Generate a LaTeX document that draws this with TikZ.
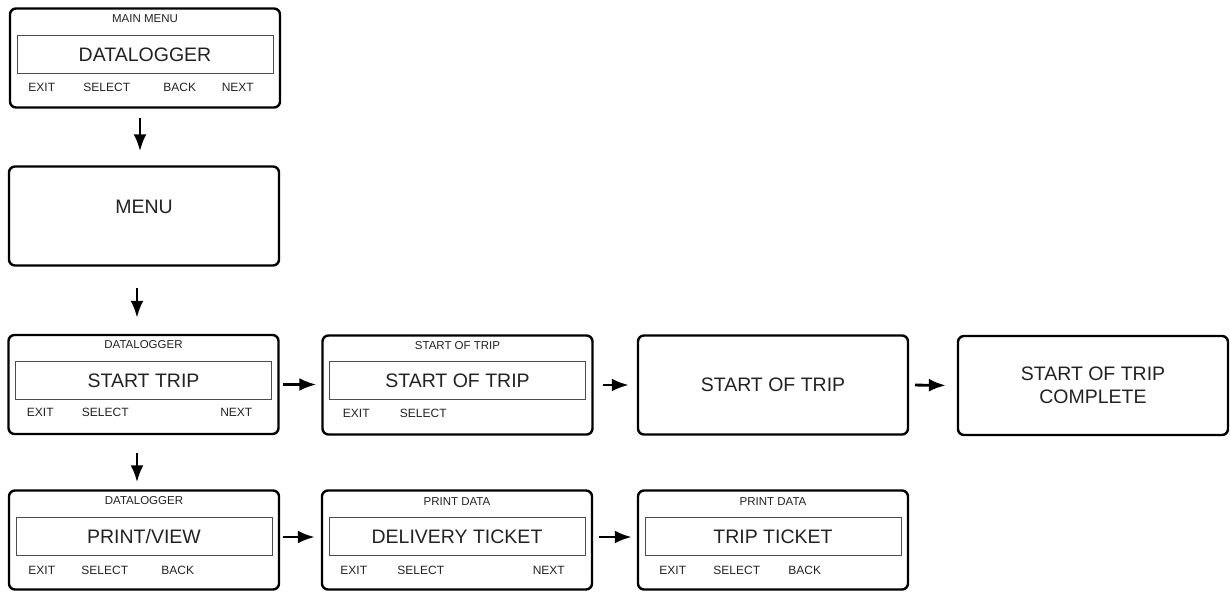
\documentclass[tikz,border=0pt]{standalone}
\usepackage{fontspec}
\setmainfont{Liberation Sans}
\usepackage{xcolor}
\usetikzlibrary{arrows.meta}
\tikzset{
  font={\fontsize{12pt}{14pt}\selectfont}}
\definecolor{ink}{HTML}{222222}

\begin{document}
\begin{tikzpicture}[x=1pt, y=-1pt]

    \tikzset{display/.style = {rounded corners=6pt, draw=black, line width=2.4pt, minimum width=270pt, minimum height=99pt, text=ink, align=center, font={\fontsize{19.5pt}{23pt}\selectfont}}}
    \tikzset{lcd/.style = {draw=black!70, line width=1pt, minimum width=256pt, minimum height=38pt, inner sep=0pt, text=ink, font={\fontsize{19.5pt}{23pt}\selectfont}}}
    \tikzset{title/.style = {inner sep=0pt, text=ink, font={\fontsize{11.5pt}{13pt}\selectfont}}}
    \tikzset{key/.style = {inner sep=0pt, text=ink, font={\fontsize{12pt}{14pt}\selectfont}}}
    \tikzset{edge/.style = {-{Latex[length=17pt,width=13pt]}, line width=2.8pt}}

    \useasboundingbox (0,0) rectangle (1230,592);

    % vertices
    \node[display] (mainmenu) at (145,58) {};
    \node[title] (mainmenu-title) at ([yshift=-11pt]mainmenu.north) {MAIN MENU};
    \node[lcd] (mainmenu-lcd) at ([yshift=-47pt]mainmenu.north) {DATALOGGER};
    \node[key] (mainmenu-exit) at ([xshift=33pt,yshift=-80pt]mainmenu.north west) {EXIT};
    \node[key] (mainmenu-select) at ([xshift=98pt,yshift=-80pt]mainmenu.north west) {SELECT};
    \node[key] (mainmenu-back) at ([xshift=171pt,yshift=-80pt]mainmenu.north west) {BACK};
    \node[key] (mainmenu-next) at ([xshift=229pt,yshift=-80pt]mainmenu.north west) {NEXT};

    \node[display] (menu) at (144,216) {};
    \node[display, draw=none, minimum width=0pt, minimum height=0pt, inner sep=0pt] (menu-text) at ([yshift=-42pt]menu.north) {MENU};

    \node[display] (starttrip) at (143.5,384.5) {};
    \node[title] (starttrip-title) at ([yshift=-11pt]starttrip.north) {DATALOGGER};
    \node[lcd] (starttrip-lcd) at ([yshift=-47pt]starttrip.north) {START TRIP};
    \node[key] (starttrip-exit) at ([xshift=33pt,yshift=-79pt]starttrip.north west) {EXIT};
    \node[key] (starttrip-select) at ([xshift=98pt,yshift=-79pt]starttrip.north west) {SELECT};
    \node[key] (starttrip-next) at ([xshift=229pt,yshift=-79pt]starttrip.north west) {NEXT};

    \node[display] (tripstart) at (457.5,385) {};
    \node[title] (tripstart-title) at ([yshift=-11pt]tripstart.north) {START OF TRIP};
    \node[lcd] (tripstart-lcd) at ([yshift=-46pt]tripstart.north) {START OF TRIP};
    \node[key] (tripstart-exit) at ([xshift=35pt,yshift=-79pt]tripstart.north west) {EXIT};
    \node[key] (tripstart-select) at ([xshift=102pt,yshift=-79pt]tripstart.north west) {SELECT};

    \node[display] (tripbusy) at (773,385) {START OF TRIP};
    \node[display] (tripdone) at (1093,385.5) {START OF TRIP\\COMPLETE};

    \node[display] (printview) at (144,540) {};
    \node[title] (printview-title) at ([yshift=-11pt]printview.north) {DATALOGGER};
    \node[lcd] (printview-lcd) at ([yshift=-47pt]printview.north) {PRINT/VIEW};
    \node[key] (printview-exit) at ([xshift=34pt,yshift=-81pt]printview.north west) {EXIT};
    \node[key] (printview-select) at ([xshift=97pt,yshift=-81pt]printview.north west) {SELECT};
    \node[key] (printview-back) at ([xshift=170pt,yshift=-81pt]printview.north west) {BACK};

    \node[display] (delivery) at (457,540) {};
    \node[title] (delivery-title) at ([yshift=-12pt]delivery.north) {PRINT DATA};
    \node[lcd] (delivery-lcd) at ([yshift=-47pt]delivery.north) {DELIVERY TICKET};
    \node[key] (delivery-exit) at ([xshift=33pt,yshift=-81pt]delivery.north west) {EXIT};
    \node[key] (delivery-select) at ([xshift=100pt,yshift=-81pt]delivery.north west) {SELECT};
    \node[key] (delivery-next) at ([xshift=228pt,yshift=-81pt]delivery.north west) {NEXT};

    \node[display] (tripticket) at (773,540) {};
    \node[title] (tripticket-title) at ([yshift=-12pt]tripticket.north) {PRINT DATA};
    \node[lcd] (tripticket-lcd) at ([yshift=-47pt]tripticket.north) {TRIP TICKET};
    \node[key] (tripticket-exit) at ([xshift=36pt,yshift=-81pt]tripticket.north west) {EXIT};
    \node[key] (tripticket-select) at ([xshift=100pt,yshift=-81pt]tripticket.north west) {SELECT};
    \node[key] (tripticket-back) at ([xshift=168pt,yshift=-81pt]tripticket.north west) {BACK};

    %edges
    \draw[edge, shorten <=9pt, shorten >=14pt] ([xshift=-5pt]mainmenu.south) -- ([xshift=-4pt]menu.north);
    \draw[edge, shorten <=21pt, shorten >=16pt] ([xshift=-7pt]menu.south) -- ([xshift=-6.5pt]starttrip.north);
    \draw[edge, shorten <=18pt, shorten >=7pt] ([xshift=-6.5pt]starttrip.south) -- ([xshift=-7pt]printview.north);
    \draw[edge, shorten <=3pt, shorten >=5pt] (starttrip.east) -- (starttrip.east -| tripstart.west);
    \draw[edge, shorten <=9pt, shorten >=8pt] (tripstart.east) -- (tripbusy.west);
    \draw[edge, shorten <=6pt, shorten >=11pt] (tripbusy.east) -- (tripdone.west);
    \draw[edge, shorten <=3pt, shorten >=6pt] ([yshift=3pt]printview.east) -- ([yshift=3pt]delivery.west);
    \draw[edge, shorten <=6pt, shorten >=5pt] ([yshift=3pt]delivery.east) -- ([yshift=3pt]tripticket.west);

\end{tikzpicture}
\end{document}
